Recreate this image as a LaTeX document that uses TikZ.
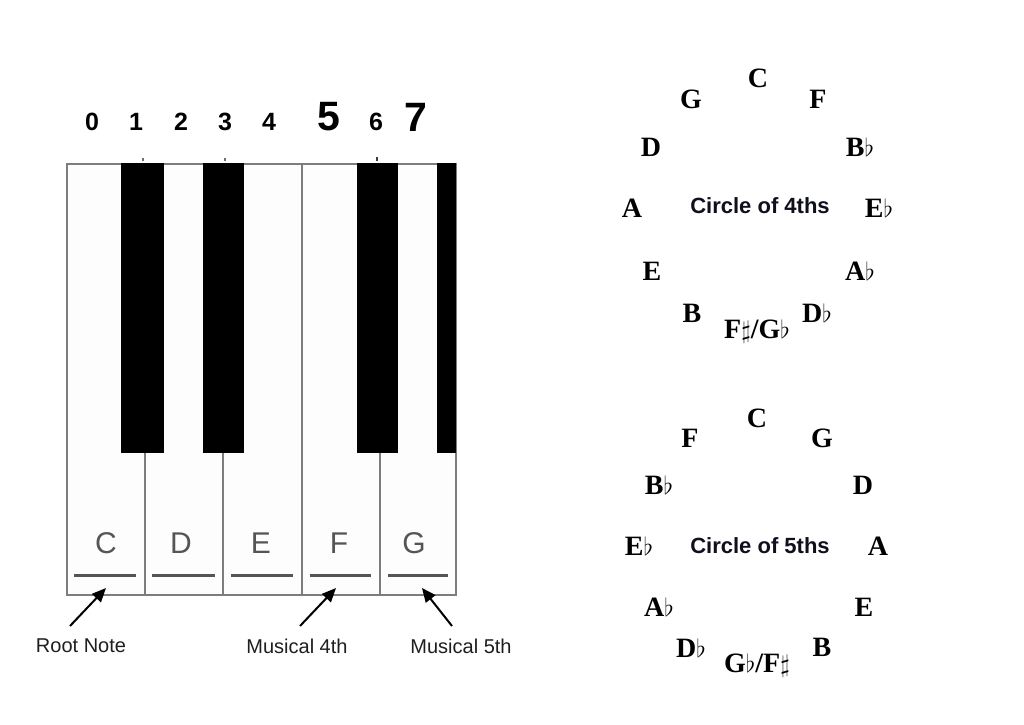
\documentclass[tikz,border=0pt]{standalone}
\usepackage{fontspec}
\setmainfont{Liberation Sans}
\newfontfamily\notefont{Liberation Serif}
\usetikzlibrary{positioning,arrows.meta}

\tikzset{
  whitekey/.style={draw={rgb,255:red,125;green,125;blue,125}, line width=1.6, fill={rgb,255:red,253;green,253;blue,253}},
  blackkey/.style={fill=black, draw=none},
  keyletter/.style={inner sep=0.75pt, font=\fontsize{30}{32}\selectfont, text={rgb,255:red,85;green,85;blue,85}},
  keybar/.style={line width=3, draw={rgb,255:red,85;green,85;blue,85}},
  digit/.style={inner sep=0.75pt, font=\fontsize{25}{27}\selectfont\bfseries},
  bigdigit/.style={inner sep=0.75pt, font=\fontsize{41}{43}\selectfont\bfseries},
  caption/.style={inner sep=0.75pt, font=\fontsize{20}{22}\selectfont, text={rgb,255:red,30;green,30;blue,30}},
  pointer/.style={line width=2, -{Triangle[length=14,width=12]}},
  note/.style={inner sep=0.75pt, font=\notefont\fontsize{28}{30}\selectfont\bfseries},
  circletitle/.style={inner sep=0.75pt, font=\fontsize{22}{24}\selectfont\bfseries, text={rgb,255:red,15;green,15;blue,30}}
}

\begin{document}
\begin{tikzpicture}[x=1pt,y=1pt,yscale=-1,xscale=1]
\useasboundingbox (0,0) rectangle (1024,724);

% White keys
\node [whitekey, anchor=north west, minimum width=78, minimum height=431, inner sep=0] (keyC) at (66,163) {};
\node [whitekey, anchor=north west, minimum width=78, minimum height=431, inner sep=0] (keyD) at (144,163) {};
\node [whitekey, anchor=north west, minimum width=79, minimum height=431, inner sep=0] (keyE) at (222,163) {};
\node [whitekey, anchor=north west, minimum width=78, minimum height=431, inner sep=0] (keyF) at (301,163) {};
\node [whitekey, anchor=north west, minimum width=76, minimum height=431, inner sep=0] (keyG) at (379,163) {};

% Black keys
\fill [blackkey] (121,163) rectangle (164,453);
\fill [blackkey] (203,163) rectangle (244,453);
\fill [blackkey] (357,163) rectangle (398,453);
\fill [blackkey] (437,163) rectangle (456,453);

% small marks above the keys
\draw [line width=1.5, color={rgb,255:red,110;green,110;blue,110}] (143,158) -- (143,161);
\draw [line width=1.5, color={rgb,255:red,110;green,110;blue,110}] (225,158) -- (225,161);
\draw [line width=2, color={rgb,255:red,60;green,60;blue,60}] (377,157) -- (377,161);

% Key letters
\node [keyletter] (lblC) at (106,543) {C};
\node [keyletter] (lblD) at (181,543) {D};
\node [keyletter] (lblE) at (261,543) {E};
\node [keyletter] (lblF) at (339,543) {F};
\node [keyletter] (lblG) at (414,543) {G};

%Straight Lines
\draw [keybar] (74,575) -- (136,575);
\draw [keybar] (152,575) -- (215,575);
\draw [keybar] (231,575) -- (293,575);
\draw [keybar] (310,575) -- (371,575);
\draw [keybar] (388,575) -- (448,575);

% Interval numbers
\node [digit] (num0) at (92,122) {0};
\node [digit] (num1) at (136,122) {1};
\node [digit] (num2) at (181,122) {2};
\node [digit] (num3) at (225,122) {3};
\node [digit] (num4) at (269,122) {4};
\node [bigdigit] (num5) at (329,117) {5};
\node [digit] (num6) at (376,122) {6};
\node [bigdigit] (num7) at (416,117) {7};

% Captions and pointers
\node [caption] (rootNote) at (81,646) {Root Note};
\node [caption] (fourthNote) at (297,646) {Musical 4th};
\node [caption] (fifthNote) at (461,646) {Musical 5th};
\coordinate (rootTail) at (70,626);
\coordinate (rootTip) at (106,588);
\coordinate (fourthTail) at (300,626);
\coordinate (fourthTip) at (336,588);
\coordinate (fifthTail) at (452,626);
\coordinate (fifthTip) at (422,588);
\draw [pointer] (rootTail) -- (rootTip);
\draw [pointer] (fourthTail) -- (fourthTip);
\draw [pointer] (fifthTail) -- (fifthTip);

% Circle of 4ths
\node [circletitle] (fourthsTitle) at (760,206) {Circle of 4ths};
\node [note] (fC) at (758,78) {C};
\node [note] (fF) at (818,99) {F};
\node [note] (fBb) at (860,147) {B$\flat$};
\node [note] (fEb) at (879,208) {E$\flat$};
\node [note] (fAb) at (860,271) {A$\flat$};
\node [note] (fDb) at (817,313) {D$\flat$};
\node [note] (fFs) at (757,332) {F$\sharp$/G$\flat$};
\node [note] (fB) at (692,313) {B};
\node [note] (fE) at (652,271) {E};
\node [note] (fA) at (632,208) {A};
\node [note] (fD) at (651,147) {D};
\node [note] (fG) at (691,99) {G};

% Circle of 5ths
\node [circletitle] (fifthsTitle) at (760,546) {Circle of 5ths};
\node [note] (vC) at (757,418) {C};
\node [note] (vG) at (822,438) {G};
\node [note] (vD) at (863,485) {D};
\node [note] (vA) at (878,546) {A};
\node [note] (vE) at (864,607) {E};
\node [note] (vB) at (822,647) {B};
\node [note] (vGb) at (757,666) {G$\flat$/F$\sharp$};
\node [note] (vDb) at (691,648) {D$\flat$};
\node [note] (vAb) at (659,607) {A$\flat$};
\node [note] (vEb) at (639,546) {E$\flat$};
\node [note] (vBb) at (659,485) {B$\flat$};
\node [note] (vF) at (690,438) {F};

\end{tikzpicture}
\end{document}
